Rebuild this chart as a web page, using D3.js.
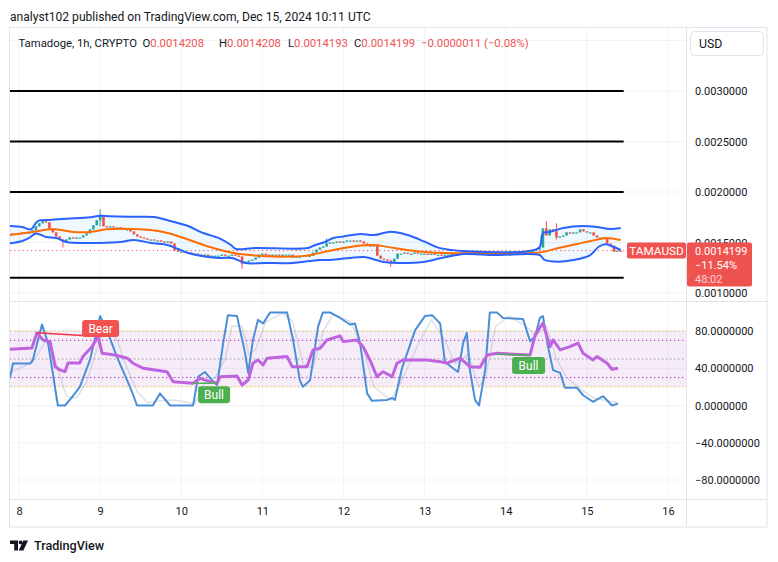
<!DOCTYPE html>
<html><head><meta charset="utf-8">
<script src="https://cdn.jsdelivr.net/npm/d3@7"></script>
<style>
body{margin:0;background:#fff}
svg{display:block;font-family:Roboto,"Noto Sans",sans-serif}
</style>
</head><body>
<svg id="c" width="778" height="562"></svg>
<script>
// ---------- data ----------
const dayLabels = ["8","9","10","11","12","13","14","15","16"];
const dayHours = [0,24,48,72,96,120,144,168,192];
const priceTicks = [0.0010,0.0015,0.0020,0.0025,0.0030];
const priceGrid = [0.0010,0.0015,0.0020,0.0025,0.0030,0.0035];
const rsiTicks = [80,40,0,-40,-80];
const levelPrices = [0.0030,0.0025,0.0020,0.00115];

const startHour = -3; // Dec 7 21:00 (hours from Dec 8 00:00)
const closes = [
 0.00159,0.00158,0.00159,
 0.00159,0.00160,0.00159,0.00160,0.00162,0.00166,0.00169,0.00171,0.00170,0.00164,0.00160,0.00156,0.00153,0.00151,0.00153,0.00155,0.00154,0.00155,0.00155,0.00157,0.00159,0.00163,0.00167,0.00172,
 0.00176,0.00166,0.00165,0.00166,0.00165,0.00165,0.00164,0.00163,0.00163,0.00161,0.00158,0.00156,0.00155,0.00154,0.00153,0.00153,0.00152,0.00152,0.00151,0.00150,0.00151,0.00149,0.00142,0.00141,
 0.00141,0.00140,0.00140,0.00139,0.00139,0.00138,0.00137,0.00138,0.00136,0.00137,0.00137,0.00137,0.00138,0.00137,0.00137,0.00138,0.00137,0.00136,0.00129,0.00131,0.00132,0.00133,0.00135,0.00138,
 0.00139,0.00138,0.00137,0.00138,0.00138,0.00137,0.00138,0.00138,0.00138,0.00135,0.00136,0.00136,0.00137,0.00136,0.00137,0.00140,0.00143,0.00145,0.00146,0.00149,0.00150,0.00150,0.00151,0.00150,
 0.00151,0.00152,0.00152,0.00151,0.00152,0.00151,0.00149,0.00147,0.00146,0.00148,0.00137,0.00134,0.00133,0.00132,0.00130,0.00134,0.00139,0.00139,0.00140,0.00139,0.00139,0.00140,0.00139,0.00139,
 0.00139,0.00138,0.00139,0.00138,0.00138,0.00137,0.00138,0.00138,0.00139,0.00138,0.00139,0.00140,0.00140,0.00139,0.00140,0.00139,0.00140,0.00139,0.00140,0.00140,0.00140,0.00141,0.00140,0.00140,
 0.00140,0.00141,0.00140,0.00141,0.00140,0.00141,0.00138,0.00140,0.00142,0.00143,0.00145,0.00164,0.00157,0.00163,0.00161,0.00155,0.00156,0.00157,0.00160,0.00159,0.00160,0.00160,0.00163,0.00161,
 0.00160,0.00160,0.00157,0.00155,0.00155,0.00154,0.00149,0.00147,0.00141,0.00142,0.0014199
];
const firstOpen = 0.00158;
const wickHours = [13,24,66,91,110,156,159];
const wickHighs = [0.00153,0.00183,0.00137,0.00154,0.00133,0.00171,0.00169];
const wickLows  = [0.00145,0.00166,0.00124,0.00146,0.00126,0.00157,0.00153];

const upperH = [-3,1,3.5,5.5,9,14,21,24,27,34,40,44,50,54,59,62.7,64.2,70,85.5,87.6,90.5,93,96,101,105,110,115,120,124,128,131,151,154,155,157,161,167,171,175,178];
const upperP = [0.001663,0.001653,0.001630,0.001710,0.001723,0.001735,0.001750,0.001765,0.001760,0.001755,0.001752,0.001720,0.001663,0.001600,0.001545,0.001475,0.001436,0.001446,0.001446,0.001475,0.001505,0.001545,0.001560,0.001584,0.001574,0.001607,0.001574,0.001508,0.001449,0.001426,0.001416,0.001416,0.001455,0.001594,0.001604,0.001644,0.001663,0.001653,0.001634,0.001644];
const lowerH = [-3,1,3,5,8,11,14,20,24,30,34,39,44,47,50,54,59,63,67,73,81,86,89,92,98,102,108,112,119.5,125,129.5,131.5,141,154,155.5,159.5,164,169,171.5,173.5,175.5,178];
const lowerP = [0.001490,0.001515,0.001545,0.001590,0.001554,0.001545,0.001505,0.001495,0.001495,0.001505,0.001525,0.001495,0.001475,0.001436,0.001396,0.001366,0.001347,0.001347,0.001297,0.001297,0.001297,0.001317,0.001327,0.001327,0.001347,0.001356,0.001307,0.001297,0.001307,0.001347,0.001376,0.001386,0.001376,0.001376,0.001327,0.001310,0.001327,0.001376,0.001458,0.001482,0.001460,0.001426];
const basisH = [-3,4,10,16,21,26,34,39,44,50,56,62,68,77,85,93,101,105,111,117,126,140,154,159,165,172,174,178];
const basisP = [0.001574,0.001604,0.001634,0.001604,0.001604,0.001630,0.001634,0.001624,0.001594,0.001530,0.001460,0.001406,0.001376,0.001360,0.001370,0.001426,0.001470,0.001475,0.001446,0.001416,0.001396,0.001396,0.001400,0.001440,0.001485,0.001535,0.001545,0.001525];

const rsiH = [-2.7,3.8,5.3,7.1,9.2,10.7,12.1,13.6,14.5,18,18.9,21.6,23.4,24.6,28.4,32,33.7,36.7,43.8,45.6,51.5,53.6,56.5,58.6,59.5,64.5,66,67.8,69.2,70.7,72.2,73.4,79.3,80.8,85.2,87,89.1,91.1,95,95.9,100,101.8,103.8,105.9,107.7,110.4,111.8,113.6,120.7,124.6,126.6,130.5,133.4,136.4,138.5,141.4,151.2,152.7,155,157.1,158,160.1,163,165.4,166.9,169.8,171,174,175.4,177.2];
const rsiV = [60.4,61.8,78,70.4,68.6,41.7,38.2,36.3,45.7,45.7,52.5,63.2,74,56,54.3,50.8,45.4,40,36.3,25.6,23.9,29.2,25.6,23.9,31,31.7,22,27.4,45.4,48.9,43.5,50.8,52.5,41.7,41.7,59.7,61.5,70.4,74.7,68.6,70.4,63.2,48.9,31,36.3,31,45.4,48.9,48.9,47.1,45.4,50.8,41.7,41,54.3,56,54.3,75.8,88.4,63.2,70.4,59.7,63.2,66.9,56,48.9,52.5,45.4,38.9,40];

const kH = [-2.7,-1.8,3.3,4.1,6.8,8.6,11.5,13.6,15.7,18,21,24,26,29,32,33.4,34.9,39.6,41.7,44.7,51.5,53,55,57.1,58.6,60.4,61.8,64.5,66.9,67.8,69.2,70.7,72.2,74.3,79.3,81.1,83.1,84,86.1,88.5,89.9,92,95,97.9,99.4,100.9,103,104.4,108.9,110.4,111.2,113.3,117.2,120.1,122.2,124.6,126,128.4,129.9,131.4,132.5,133.4,134.9,136.1,137.9,139.3,141.4,143.2,149.1,151.2,152.7,154.1,155,156.5,158,160.1,161.5,165.1,166.9,169.8,172.8,175.4,177.2];
const kV = [29,45,45,49,87,67,0,0,9,20,49,96,81,52,27,15,0,0,13,0,0,31,36,27,22,67,97,96,56,35,70,92,88,100,100,70,27,20,27,85,100,100,94,87,88,67,13,5,6,8,6,40,81,96,97,88,47,40,36,67,78,38,6,0,38,100,100,94,93,69,74,94,96,63,38,35,19,19,11,4,10,0,2];
const dH = [-2.7,0,4,8,11,14,17,20,23,26,29,32,35,38,42,46,52,55,58,61,63,66,68,70,73,78,81,84,87,90,93,98,102,105,110,113,118,122,126,129,133,136,138,141,145,150,153,156,159,162,166,170,174,177.2];
const dV = [35,40,46,70,45,10,8,25,60,90,70,40,15,3,5,6,2,25,30,50,85,85,55,60,90,99,90,45,40,80,98,90,60,20,6,25,65,92,70,45,55,20,30,85,96,85,75,85,50,30,18,8,5,3];

// divergence labels [hour1, value1, hour2, value2]
const bearLine = [5.3,78,23.4,74];
const bullLine1 = [51.5,23.9,58.6,23.9];
const bullLine2 = [141.4,55,151.2,54.3];

// ---------- drawing ----------
const svg = d3.select("#c");
const L=10, R=686.5, AX=767, TOP=27.5, SEP=301.5, RB=499.5, BOT=527;
const x = d3.scaleLinear().domain([0,192]).range([19,668]);
const yP = d3.scaleLinear().domain([0.001,0.003]).range([293,91]);
const yR = d3.scaleLinear().domain([0,80]).range([405.5,331]);
const GREEN="#26a69a", RED="#ef5350", TXT="#131722", GRID="#f0f3fa", BORDER="#e0e3eb";

const defs = svg.append("defs");
defs.append("clipPath").attr("id","cp").append("rect").attr("x",L).attr("y",TOP).attr("width",R-L).attr("height",SEP-TOP);
defs.append("clipPath").attr("id","cr").append("rect").attr("x",L).attr("y",SEP).attr("width",R-L).attr("height",RB-SEP);

// header
svg.append("text").attr("x",10).attr("y",20.5).attr("font-size",12.1).attr("fill",TXT)
  .text("analyst102 published on TradingView.com, Dec 15, 2024 10:11 UTC");

// grid
const g = svg.append("g");
g.selectAll(".vg").data(dayHours).join("line").attr("x1",d=>x(d)).attr("x2",d=>x(d)).attr("y1",TOP).attr("y2",RB).attr("stroke",GRID);
g.selectAll(".hg").data(priceGrid).join("line").attr("x1",L).attr("x2",R).attr("y1",d=>yP(d)).attr("y2",d=>yP(d)).attr("stroke",GRID);
g.selectAll(".rg").data(rsiTicks).join("line").attr("x1",L).attr("x2",R).attr("y1",d=>yR(d)).attr("y2",d=>yR(d)).attr("stroke",GRID);

// ---------- price pane ----------
const pp = svg.append("g").attr("clip-path","url(#cp)");
const up = upperH.map((h,i)=>[x(h),yP(upperP[i])]);
const lo = lowerH.map((h,i)=>[x(h),yP(lowerP[i])]);
const bs = basisH.map((h,i)=>[x(h),yP(basisP[i])]);
const cl = d3.line().curve(d3.curveCatmullRom.alpha(0.5));
pp.append("path").attr("d", cl(up) + cl(lo.slice().reverse()).replace(/^M/,"L") + "Z")
  .attr("fill","rgba(33,150,243,0.07)");

// horizontal levels
pp.selectAll(".lv").data(levelPrices).join("line")
  .attr("x1",x(startHour)-2).attr("x2",x(178)+3).attr("y1",d=>yP(d)).attr("y2",d=>yP(d))
  .attr("stroke","#000").attr("stroke-width",2);

// current price dotted line
const lastClose = closes[closes.length-1];
pp.append("line").attr("x1",L).attr("x2",R).attr("y1",yP(lastClose)).attr("y2",yP(lastClose))
  .attr("stroke",RED).attr("stroke-dasharray","1.2,3").attr("stroke-width",1);

// candles
const candles = closes.map((c,i)=>{
  const h = startHour+i, o = i===0?firstOpen:closes[i-1];
  const wi = wickHours.indexOf(h);
  return {h,o,c,hi: wi>=0?wickHighs[wi]:Math.max(o,c), lo: wi>=0?wickLows[wi]:Math.min(o,c)};
});
const cg = pp.append("g");
cg.selectAll(".wk").data(candles).join("line")
  .attr("x1",d=>x(d.h)).attr("x2",d=>x(d.h)).attr("y1",d=>yP(d.hi)).attr("y2",d=>yP(d.lo))
  .attr("stroke",d=>d.c>=d.o?GREEN:RED).attr("stroke-width",1);
cg.selectAll(".bd").data(candles).join("rect")
  .attr("x",d=>x(d.h)-1.3).attr("width",2.6)
  .attr("y",d=>yP(Math.max(d.o,d.c)))
  .attr("height",d=>Math.max(1.2,yP(Math.min(d.o,d.c))-yP(Math.max(d.o,d.c))))
  .attr("fill",d=>d.c>=d.o?GREEN:RED);

// bands
const bandLine = (pts,col,w)=>pp.append("path").attr("d",cl(pts)).attr("fill","none").attr("stroke",col).attr("stroke-width",w);
bandLine(bs,"#ff6d00",2);
bandLine(up,"#2962ff",2);
bandLine(lo,"#2962ff",2);

// ---------- RSI pane ----------
const rp = svg.append("g").attr("clip-path","url(#cr)");
rp.append("rect").attr("x",L).attr("width",R-L).attr("y",yR(80)).attr("height",yR(20)-yR(80)).attr("fill","rgba(156,39,176,0.09)");
[[80,"#d9c21c"],[20,"#d9c21c"],[70,"#a626b8"],[30,"#a626b8"],[50,"#8a8a96"]].forEach(([v,c])=>{
  rp.append("line").attr("x1",L).attr("x2",R).attr("y1",yR(v)).attr("y2",yR(v))
    .attr("stroke",c).attr("stroke-width",1).attr("stroke-dasharray","1.3,2.7");
});
const ll = d3.line();
rp.append("path").attr("d",ll(dH.map((h,i)=>[x(h),yR(dV[i])]))).attr("fill","none").attr("stroke","rgba(160,165,180,0.35)").attr("stroke-width",1.5);
rp.append("path").attr("d",ll(kH.map((h,i)=>[x(h),yR(kV[i])]))).attr("fill","none").attr("stroke","#4a8ed8").attr("stroke-width",2).attr("stroke-linejoin","round");
rp.append("path").attr("d",ll(rsiH.map((h,i)=>[x(h),yR(rsiV[i])]))).attr("fill","none").attr("stroke","#bf63e0").attr("stroke-width",3).attr("stroke-linejoin","round");

function divLine(a,col){
  rp.append("line").attr("x1",x(a[0])).attr("y1",yR(a[1])).attr("x2",x(a[2])).attr("y2",yR(a[3]))
    .attr("stroke",col).attr("stroke-width",1.5);
}
divLine(bearLine,"#f23645");
divLine(bullLine1,"#4caf50");
divLine(bullLine2,"#4caf50");
function tag(cx,cy,w,txt,col){
  const t = svg.append("g");
  t.append("rect").attr("x",cx-w/2).attr("y",cy-8.5).attr("width",w).attr("height",17).attr("rx",3).attr("fill",col);
  t.append("text").attr("x",cx).attr("y",cy+4.3).attr("text-anchor","middle").attr("font-size",12).attr("fill","#fff").text(txt);
}
tag(x(bearLine[2])+2.5, yR(bearLine[3])-8, 37, "Bear", "#f05350");
tag(x(bullLine1[2])-3, yR(bullLine1[3])+11.5, 32, "Bull", "#4caf50");
tag(x(bullLine2[2])-1.5, yR(bullLine2[3])+10.5, 33, "Bull", "#4caf50");

// ---------- frame ----------
const fr = svg.append("g").attr("stroke",BORDER).attr("fill","none");
fr.append("rect").attr("x",9.5).attr("y",TOP).attr("width",AX-9.5).attr("height",BOT-TOP);
fr.append("line").attr("x1",R).attr("x2",R).attr("y1",TOP).attr("y2",BOT);
fr.append("line").attr("x1",L).attr("x2",AX).attr("y1",SEP).attr("y2",SEP);
fr.append("line").attr("x1",L).attr("x2",AX).attr("y1",RB).attr("y2",RB);

// legend line
const lg = svg.append("text").attr("y",47).attr("font-size",11.3).attr("fill",TXT);
lg.append("tspan").attr("x",18.5).text("Tamadoge, 1h, CRYPTO");
[["O","0.0014208",142.5],["H","0.0014208",219],["L","0.0014193",288],["C","0.0014199",354]].forEach(([k,v,px])=>{
  lg.append("tspan").attr("x",px).text(k);
  lg.append("tspan").attr("fill",RED).text(v);
});
lg.append("tspan").attr("x",421).attr("fill",RED).text("\u22120.0000011 (\u22120.08%)");

// USD box
svg.append("rect").attr("x",690.5).attr("y",31.5).attr("width",73).attr("height",24).attr("rx",4).attr("fill","#fff").attr("stroke",BORDER);
svg.append("text").attr("x",699).attr("y",48).attr("font-size",12.3).attr("fill",TXT).text("USD");

// axes
const fmt = d3.format(".7f");
const pa = svg.append("g").attr("transform","translate(692,0)")
  .call(d3.axisRight(yP).tickValues(priceTicks).tickSize(0).tickPadding(3).tickFormat(fmt));
const ra = svg.append("g").attr("transform","translate(692,0)")
  .call(d3.axisRight(yR).tickValues(rsiTicks).tickSize(0).tickPadding(3).tickFormat(fmt));
const ta = svg.append("g").attr("transform",`translate(0,${RB})`)
  .call(d3.axisBottom(x).tickValues(dayHours).tickSize(0).tickPadding(7.5).tickFormat((d,i)=>dayLabels[i]));
[pa,ra,ta].forEach(a=>{
  a.select(".domain").remove();
  a.selectAll("text").attr("font-size",11).attr("fill",TXT).attr("font-family","Roboto,sans-serif");
});

// last price labels
const ly = yP(lastClose);
svg.append("rect").attr("x",627).attr("y",ly-8).attr("width",59).attr("height",16).attr("rx",2).attr("fill",RED);
svg.append("text").attr("x",656.5).attr("y",ly+4.3).attr("text-anchor","middle").attr("font-size",11.8).attr("fill","#fff").text("TAMAUSD");
svg.append("rect").attr("x",687).attr("y",ly-8).attr("width",65).attr("height",44).attr("rx",2).attr("fill",RED);
svg.append("text").attr("x",695).attr("y",ly+4.3).attr("font-size",11).attr("fill","#fff").text(d3.format(".7f")(lastClose));
svg.append("text").attr("x",695).attr("y",ly+18.5).attr("font-size",11).attr("fill","#fff").text("\u221211.54%");
svg.append("text").attr("x",695).attr("y",ly+32.5).attr("font-size",11).attr("fill","rgba(255,255,255,0.75)").text("48:02");

// logo
const lgo = svg.append("g").attr("fill",TXT);
lgo.append("path").attr("d","M10 540.5 h8 v10 h-3.8 v-6.4 h-4.2 z");
lgo.append("circle").attr("cx",20.6).attr("cy",542.4).attr("r",1.9);
lgo.append("path").attr("d","M23.3 540.5 h4.7 l-4.6 10 h-4.7 z");
svg.append("text").attr("x",34).attr("y",550).attr("font-size",12.6).attr("font-weight",500).attr("fill",TXT).text("TradingView");
</script>
</body></html>
